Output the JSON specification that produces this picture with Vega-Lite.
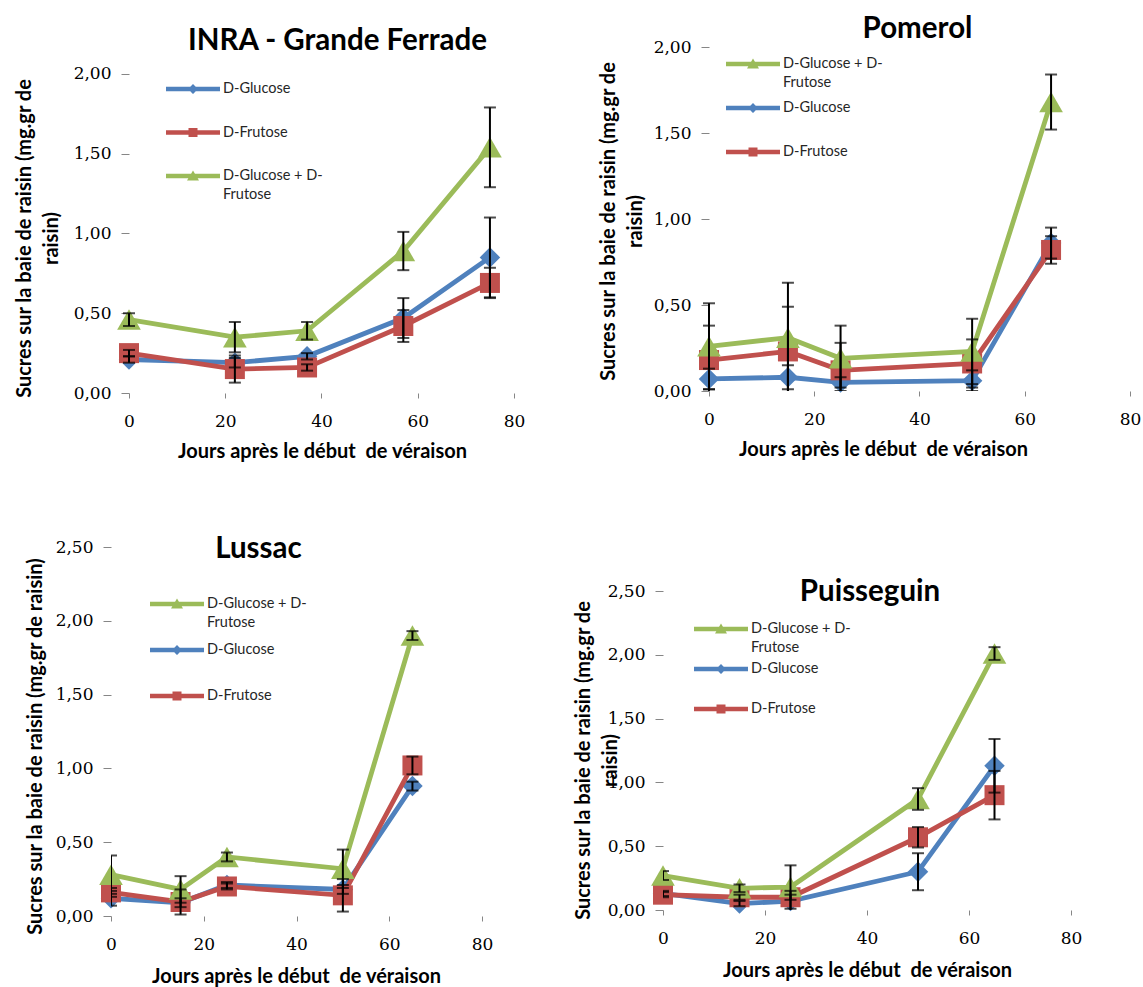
{
  "$schema": "https://vega.github.io/schema/vega-lite/v6.json",
  "padding": {"left": 13, "top": 13, "right": 5, "bottom": 5},
  "background": "white",
  "datasets": {
    "d": [
      {"p": "INRA", "s": "D-Glucose", "x": 0, "v": 0.21, "e": 0.02},
      {"p": "INRA", "s": "D-Glucose", "x": 22, "v": 0.19, "e": 0.03},
      {"p": "INRA", "s": "D-Glucose", "x": 37, "v": 0.23, "e": 0.02},
      {"p": "INRA", "s": "D-Glucose", "x": 57, "v": 0.47, "e": 0.125},
      {"p": "INRA", "s": "D-Glucose", "x": 75, "v": 0.85, "e": 0.25},
      {"p": "INRA", "s": "D-Frutose", "x": 0, "v": 0.25, "e": 0.02},
      {"p": "INRA", "s": "D-Frutose", "x": 22, "v": 0.15, "e": 0.085},
      {"p": "INRA", "s": "D-Frutose", "x": 37, "v": 0.16, "e": 0.02},
      {"p": "INRA", "s": "D-Frutose", "x": 57, "v": 0.42, "e": 0.10},
      {"p": "INRA", "s": "D-Frutose", "x": 75, "v": 0.69, "e": 0.095},
      {"p": "INRA", "s": "D-Glucose + D-Frutose", "x": 0, "v": 0.46, "e": 0.04},
      {"p": "INRA", "s": "D-Glucose + D-Frutose", "x": 22, "v": 0.35, "e": 0.095},
      {"p": "INRA", "s": "D-Glucose + D-Frutose", "x": 37, "v": 0.39, "e": 0.055},
      {"p": "INRA", "s": "D-Glucose + D-Frutose", "x": 57, "v": 0.89, "e": 0.12},
      {"p": "INRA", "s": "D-Glucose + D-Frutose", "x": 75, "v": 1.54, "e": 0.25},

      {"p": "Pomerol", "s": "D-Glucose", "x": 0, "v": 0.07, "e": 0.06},
      {"p": "Pomerol", "s": "D-Glucose", "x": 15, "v": 0.08, "e": 0.07},
      {"p": "Pomerol", "s": "D-Glucose", "x": 25, "v": 0.05, "e": 0.03},
      {"p": "Pomerol", "s": "D-Glucose", "x": 50, "v": 0.06, "e": 0.06},
      {"p": "Pomerol", "s": "D-Glucose", "x": 65, "v": 0.86, "e": 0.09},
      {"p": "Pomerol", "s": "D-Frutose", "x": 0, "v": 0.18, "e": 0.20},
      {"p": "Pomerol", "s": "D-Frutose", "x": 15, "v": 0.23, "e": 0.26},
      {"p": "Pomerol", "s": "D-Frutose", "x": 25, "v": 0.12, "e": 0.16},
      {"p": "Pomerol", "s": "D-Frutose", "x": 50, "v": 0.16, "e": 0.14},
      {"p": "Pomerol", "s": "D-Frutose", "x": 65, "v": 0.82, "e": 0.08},
      {"p": "Pomerol", "s": "D-Glucose + D-Frutose", "x": 0, "v": 0.26, "e": 0.25},
      {"p": "Pomerol", "s": "D-Glucose + D-Frutose", "x": 15, "v": 0.31, "e": 0.32},
      {"p": "Pomerol", "s": "D-Glucose + D-Frutose", "x": 25, "v": 0.19, "e": 0.19},
      {"p": "Pomerol", "s": "D-Glucose + D-Frutose", "x": 50, "v": 0.23, "e": 0.19},
      {"p": "Pomerol", "s": "D-Glucose + D-Frutose", "x": 65, "v": 1.68, "e": 0.16},

      {"p": "Lussac", "s": "D-Glucose", "x": 0, "v": 0.12, "e": 0.05},
      {"p": "Lussac", "s": "D-Glucose", "x": 15, "v": 0.09, "e": 0.03},
      {"p": "Lussac", "s": "D-Glucose", "x": 25, "v": 0.21, "e": 0.02},
      {"p": "Lussac", "s": "D-Glucose", "x": 50, "v": 0.18, "e": 0.03},
      {"p": "Lussac", "s": "D-Glucose", "x": 65, "v": 0.88, "e": 0.03},
      {"p": "Lussac", "s": "D-Frutose", "x": 0, "v": 0.16, "e": 0.03},
      {"p": "Lussac", "s": "D-Frutose", "x": 15, "v": 0.095, "e": 0.085},
      {"p": "Lussac", "s": "D-Frutose", "x": 25, "v": 0.20, "e": 0.02},
      {"p": "Lussac", "s": "D-Frutose", "x": 50, "v": 0.14, "e": 0.11},
      {"p": "Lussac", "s": "D-Frutose", "x": 65, "v": 1.02, "e": 0.06},
      {"p": "Lussac", "s": "D-Glucose + D-Frutose", "x": 0, "v": 0.28, "e": 0.13},
      {"p": "Lussac", "s": "D-Glucose + D-Frutose", "x": 15, "v": 0.18, "e": 0.09},
      {"p": "Lussac", "s": "D-Glucose + D-Frutose", "x": 25, "v": 0.40, "e": 0.03},
      {"p": "Lussac", "s": "D-Glucose + D-Frutose", "x": 50, "v": 0.32, "e": 0.13},
      {"p": "Lussac", "s": "D-Glucose + D-Frutose", "x": 65, "v": 1.90, "e": 0.03},

      {"p": "Puisseguin", "s": "D-Glucose", "x": 0, "v": 0.13, "e": 0.02},
      {"p": "Puisseguin", "s": "D-Glucose", "x": 15, "v": 0.05, "e": 0.02},
      {"p": "Puisseguin", "s": "D-Glucose", "x": 25, "v": 0.07, "e": 0.08},
      {"p": "Puisseguin", "s": "D-Glucose", "x": 50, "v": 0.30, "e": 0.145},
      {"p": "Puisseguin", "s": "D-Glucose", "x": 65, "v": 1.13, "e": 0.21},
      {"p": "Puisseguin", "s": "D-Frutose", "x": 0, "v": 0.12, "e": 0.02},
      {"p": "Puisseguin", "s": "D-Frutose", "x": 15, "v": 0.10, "e": 0.02},
      {"p": "Puisseguin", "s": "D-Frutose", "x": 25, "v": 0.10, "e": 0.02},
      {"p": "Puisseguin", "s": "D-Frutose", "x": 50, "v": 0.57, "e": 0.08},
      {"p": "Puisseguin", "s": "D-Frutose", "x": 65, "v": 0.90, "e": 0.19},
      {"p": "Puisseguin", "s": "D-Glucose + D-Frutose", "x": 0, "v": 0.27, "e": 0.035},
      {"p": "Puisseguin", "s": "D-Glucose + D-Frutose", "x": 15, "v": 0.17, "e": 0.03},
      {"p": "Puisseguin", "s": "D-Glucose + D-Frutose", "x": 25, "v": 0.18, "e": 0.17},
      {"p": "Puisseguin", "s": "D-Glucose + D-Frutose", "x": 50, "v": 0.87, "e": 0.085},
      {"p": "Puisseguin", "s": "D-Glucose + D-Frutose", "x": 65, "v": 2.01, "e": 0.05}
    ]
  },
  "columns": 2,
  "align": "each",
  "bounds": "full",
  "spacing": {"row": 72, "column": 48},
  "resolve": {
    "scale": {"color": "independent", "shape": "independent"},
    "legend": {"color": "independent", "shape": "independent"}
  },
  "concat": [
    {
      "width": 403, "height": 346,
      "title": {"text": "INRA - Grande Ferrade", "dx": 25, "offset": -9, "frame": "group"},
      "data": {"name": "d"},
      "transform": [{"filter": "datum.p == 'INRA'"}],
      "encoding": {
        "x": {"field": "x", "type": "quantitative", "scale": {"domain": [-3.74, 80], "nice": false, "zero": false},
          "axis": {"values": [0, 20, 40, 60, 80], "title": "Jours après le début\u00a0 de véraison", "titleX": 211, "titleY": 58}},
        "y": {"field": "v", "type": "quantitative", "scale": {"domain": [0, 2.169], "nice": false},
          "axis": {"values": [0, 0.5, 1, 1.5, 2], "offset": -18, "title": ["Sucres sur la baie de raisin (mg.gr de", "raisin)"], "titleX": -95, "titleY": 191}}
      },
      "layer": [
        {"data": {"values": [{"k": 1}]}, "mark": {"type": "rule", "color": "#868686", "strokeWidth": 1},
          "encoding": {"x": {"datum": 0, "type": "quantitative"}, "y": {"datum": 0, "type": "quantitative"}, "y2": {"datum": 2}}},
        {"data": {"values": [{"k": 1}]}, "mark": {"type": "rule", "color": "#868686", "strokeWidth": 1},
          "encoding": {"x": {"datum": 0, "type": "quantitative"}, "x2": {"datum": 80}, "y": {"datum": 0, "type": "quantitative"}}},
        {"transform": [{"filter": "datum.s == 'D-Glucose'"}], "mark": {"type": "line", "color": "#4F81BD", "strokeWidth": 4.8, "point": {"shape": "diamond", "filled": true, "opacity": 1, "size": 420, "color": "#4F81BD"}}},
        {"transform": [{"filter": "datum.s == 'D-Frutose'"}], "mark": {"type": "line", "color": "#C0504D", "strokeWidth": 4.8, "point": {"shape": "square", "filled": true, "opacity": 1, "size": 400, "color": "#C0504D"}}},
        {"transform": [{"filter": "datum.s == 'D-Glucose + D-Frutose'"}], "mark": {"type": "line", "color": "#9BBB59", "strokeWidth": 4.8, "point": {"shape": "triangle-up", "filled": true, "opacity": 1, "size": 560, "color": "#9BBB59"}}},
        {"mark": {"type": "errorbar", "ticks": true, "size": 12, "thickness": 2, "color": "black", "clip": true},
          "encoding": {"yError": {"field": "e"}}},
        {"transform": [{"filter": "false"}], "mark": {"type": "point", "filled": true, "opacity": 1},
          "encoding": {
            "color": {"field": "s", "type": "nominal", "scale": {"domain": ["D-Glucose", "D-Frutose", "D-Glucose + D-Frutose"], "range": ["#4F81BD", "#C0504D", "#9BBB59"]},
              "legend": {"orient": "none", "legendX": 72, "legendY": 32, "rowPadding": 4.5, "labelExpr": "datum.label === 'D-Glucose + D-Frutose' ? ['D-Glucose + D-', 'Frutose'] : datum.label"}},
            "shape": {"field": "s", "type": "nominal", "scale": {"domain": ["D-Glucose", "D-Frutose", "D-Glucose + D-Frutose"], "range": [
              "M-2.7,-0.22H2.7V0.22H-2.7ZM0,-0.5L0.5,0L0,0.5L-0.5,0ZM0,-0.9L0,2.9",
              "M-2.7,-0.22H2.7V0.22H-2.7ZM-0.45,-0.45H0.45V0.45H-0.45ZM0,-0.9L0,2.9",
              "M-2.7,-0.22H2.7V0.22H-2.7ZM0,-0.55L0.6,0.45H-0.6ZM0,-0.9L0,2.9"]},
              "legend": {"orient": "none", "legendX": 72, "legendY": 32, "rowPadding": 4.5, "labelExpr": "datum.label === 'D-Glucose + D-Frutose' ? ['D-Glucose + D-', 'Frutose'] : datum.label"}}
          }}
      ]
    },
    {
      "width": 467, "height": 344,
      "title": {"text": "Pomerol", "dx": 21, "offset": -6, "frame": "group"},
      "data": {"name": "d"},
      "transform": [{"filter": "datum.p == 'Pomerol'"}],
      "encoding": {
        "x": {"field": "x", "type": "quantitative", "scale": {"domain": [-8.741, 80], "nice": false, "zero": false},
          "axis": {"values": [0, 20, 40, 60, 80], "title": "Jours après le début\u00a0 de véraison", "titleX": 220, "titleY": 58}},
        "y": {"field": "v", "type": "quantitative", "scale": {"domain": [0, 2], "nice": false},
          "axis": {"values": [0, 0.5, 1, 1.5, 2], "offset": -46, "title": ["Sucres sur la baie de raisin (mg.gr de", "raisin)"], "titleX": -91, "titleY": 174}}
      },
      "layer": [
        {"data": {"values": [{"k": 1}]}, "mark": {"type": "rule", "color": "#868686", "strokeWidth": 1},
          "encoding": {"x": {"datum": 0, "type": "quantitative"}, "y": {"datum": 0, "type": "quantitative"}, "y2": {"datum": 2}}},
        {"data": {"values": [{"k": 1}]}, "mark": {"type": "rule", "color": "#868686", "strokeWidth": 1},
          "encoding": {"x": {"datum": 0, "type": "quantitative"}, "x2": {"datum": 80}, "y": {"datum": 0, "type": "quantitative"}}},
        {"transform": [{"filter": "datum.s == 'D-Glucose'"}], "mark": {"type": "line", "color": "#4F81BD", "strokeWidth": 4.8, "point": {"shape": "diamond", "filled": true, "opacity": 1, "size": 420, "color": "#4F81BD"}}},
        {"transform": [{"filter": "datum.s == 'D-Frutose'"}], "mark": {"type": "line", "color": "#C0504D", "strokeWidth": 4.8, "point": {"shape": "square", "filled": true, "opacity": 1, "size": 400, "color": "#C0504D"}}},
        {"transform": [{"filter": "datum.s == 'D-Glucose + D-Frutose'"}], "mark": {"type": "line", "color": "#9BBB59", "strokeWidth": 4.8, "point": {"shape": "triangle-up", "filled": true, "opacity": 1, "size": 560, "color": "#9BBB59"}}},
        {"mark": {"type": "errorbar", "ticks": true, "size": 12, "thickness": 2, "color": "black", "clip": true},
          "encoding": {"yError": {"field": "e"}}},
        {"transform": [{"filter": "false"}], "mark": {"type": "point", "filled": true, "opacity": 1},
          "encoding": {
            "color": {"field": "s", "type": "nominal", "scale": {"domain": ["D-Glucose + D-Frutose", "D-Glucose", "D-Frutose"], "range": ["#9BBB59", "#4F81BD", "#C0504D"]},
              "legend": {"orient": "none", "legendX": 80, "legendY": 7, "rowPadding": 5, "labelExpr": "datum.label === 'D-Glucose + D-Frutose' ? ['D-Glucose + D-', 'Frutose'] : datum.label"}},
            "shape": {"field": "s", "type": "nominal", "scale": {"domain": ["D-Glucose + D-Frutose", "D-Glucose", "D-Frutose"], "range": [
              "M-2.7,-0.22H2.7V0.22H-2.7ZM0,-0.55L0.6,0.45H-0.6ZM0,-0.9L0,2.9",
              "M-2.7,-0.22H2.7V0.22H-2.7ZM0,-0.5L0.5,0L0,0.5L-0.5,0ZM0,-0.9L0,2.9",
              "M-2.7,-0.22H2.7V0.22H-2.7ZM-0.45,-0.45H0.45V0.45H-0.45ZM0,-0.9L0,2.9"]},
              "legend": {"orient": "none", "legendX": 80, "legendY": 7, "rowPadding": 5, "labelExpr": "datum.label === 'D-Glucose + D-Frutose' ? ['D-Glucose + D-', 'Frutose'] : datum.label"}}
          }}
      ]
    },
    {
      "width": 371, "height": 369,
      "title": {"text": "Lussac", "dx": -38, "offset": -26, "frame": "group"},
      "data": {"name": "d"},
      "transform": [{"filter": "datum.p == 'Lussac'"}],
      "encoding": {
        "x": {"field": "x", "type": "quantitative", "scale": {"domain": [0, 80], "nice": false, "zero": false},
          "axis": {"values": [0, 20, 40, 60, 80], "title": "Jours après le début\u00a0 de véraison", "titleX": 185, "titleY": 60}},
        "y": {"field": "v", "type": "quantitative", "scale": {"domain": [0, 2.5], "nice": false},
          "axis": {"values": [0, 0.5, 1, 1.5, 2, 2.5], "title": "Sucres sur la baie de raisin (mg.gr de raisin)", "titleX": -66, "titleY": 199}}
      },
      "layer": [
        {"data": {"values": [{"k": 1}]}, "mark": {"type": "rule", "color": "#868686", "strokeWidth": 1},
          "encoding": {"x": {"datum": 0, "type": "quantitative"}, "y": {"datum": 0, "type": "quantitative"}, "y2": {"datum": 2.5}}},
        {"data": {"values": [{"k": 1}]}, "mark": {"type": "rule", "color": "#868686", "strokeWidth": 1},
          "encoding": {"x": {"datum": 0, "type": "quantitative"}, "x2": {"datum": 80}, "y": {"datum": 0, "type": "quantitative"}}},
        {"transform": [{"filter": "datum.s == 'D-Glucose'"}], "mark": {"type": "line", "color": "#4F81BD", "strokeWidth": 4.8, "point": {"shape": "diamond", "filled": true, "opacity": 1, "size": 420, "color": "#4F81BD"}}},
        {"transform": [{"filter": "datum.s == 'D-Frutose'"}], "mark": {"type": "line", "color": "#C0504D", "strokeWidth": 4.8, "point": {"shape": "square", "filled": true, "opacity": 1, "size": 400, "color": "#C0504D"}}},
        {"transform": [{"filter": "datum.s == 'D-Glucose + D-Frutose'"}], "mark": {"type": "line", "color": "#9BBB59", "strokeWidth": 4.8, "point": {"shape": "triangle-up", "filled": true, "opacity": 1, "size": 560, "color": "#9BBB59"}}},
        {"mark": {"type": "errorbar", "ticks": true, "size": 12, "thickness": 2, "color": "black", "clip": true},
          "encoding": {"yError": {"field": "e"}}},
        {"transform": [{"filter": "false"}], "mark": {"type": "point", "filled": true, "opacity": 1},
          "encoding": {
            "color": {"field": "s", "type": "nominal", "scale": {"domain": ["D-Glucose + D-Frutose", "D-Glucose", "D-Frutose"], "range": ["#9BBB59", "#4F81BD", "#C0504D"]},
              "legend": {"orient": "none", "legendX": 56, "legendY": 47, "rowPadding": 7, "labelExpr": "datum.label === 'D-Glucose + D-Frutose' ? ['D-Glucose + D-', 'Frutose'] : datum.label"}},
            "shape": {"field": "s", "type": "nominal", "scale": {"domain": ["D-Glucose + D-Frutose", "D-Glucose", "D-Frutose"], "range": [
              "M-2.7,-0.22H2.7V0.22H-2.7ZM0,-0.55L0.6,0.45H-0.6ZM0,-0.9L0,2.9",
              "M-2.7,-0.22H2.7V0.22H-2.7ZM0,-0.5L0.5,0L0,0.5L-0.5,0ZM0,-0.9L0,2.9",
              "M-2.7,-0.22H2.7V0.22H-2.7ZM-0.45,-0.45H0.45V0.45H-0.45ZM0,-0.9L0,2.9"]},
              "legend": {"orient": "none", "legendX": 56, "legendY": 47, "rowPadding": 7, "labelExpr": "datum.label === 'D-Glucose + D-Frutose' ? ['D-Glucose + D-', 'Frutose'] : datum.label"}}
          }}
      ]
    },
    {
      "width": 408, "height": 363,
      "title": {"text": "Puisseguin", "dx": 3, "offset": -60, "frame": "group"},
      "data": {"name": "d"},
      "transform": [{"filter": "datum.p == 'Puisseguin'"}],
      "encoding": {
        "x": {"field": "x", "type": "quantitative", "scale": {"domain": [0, 80], "nice": false, "zero": false},
          "axis": {"values": [0, 20, 40, 60, 80], "title": "Jours après le début\u00a0 de véraison", "titleX": 204, "titleY": 60}},
        "y": {"field": "v", "type": "quantitative", "scale": {"domain": [0, 2.845], "nice": false},
          "axis": {"values": [0, 0.5, 1, 1.5, 2, 2.5], "title": ["Sucres sur la baie de raisin (mg.gr de", "raisin)"], "titleX": -70, "titleY": 213}}
      },
      "layer": [
        {"data": {"values": [{"k": 1}]}, "mark": {"type": "rule", "color": "#868686", "strokeWidth": 1},
          "encoding": {"x": {"datum": 0, "type": "quantitative"}, "y": {"datum": 0, "type": "quantitative"}, "y2": {"datum": 2.5}}},
        {"data": {"values": [{"k": 1}]}, "mark": {"type": "rule", "color": "#868686", "strokeWidth": 1},
          "encoding": {"x": {"datum": 0, "type": "quantitative"}, "x2": {"datum": 80}, "y": {"datum": 0, "type": "quantitative"}}},
        {"transform": [{"filter": "datum.s == 'D-Glucose'"}], "mark": {"type": "line", "color": "#4F81BD", "strokeWidth": 4.8, "point": {"shape": "diamond", "filled": true, "opacity": 1, "size": 420, "color": "#4F81BD"}}},
        {"transform": [{"filter": "datum.s == 'D-Frutose'"}], "mark": {"type": "line", "color": "#C0504D", "strokeWidth": 4.8, "point": {"shape": "square", "filled": true, "opacity": 1, "size": 400, "color": "#C0504D"}}},
        {"transform": [{"filter": "datum.s == 'D-Glucose + D-Frutose'"}], "mark": {"type": "line", "color": "#9BBB59", "strokeWidth": 4.8, "point": {"shape": "triangle-up", "filled": true, "opacity": 1, "size": 560, "color": "#9BBB59"}}},
        {"mark": {"type": "errorbar", "ticks": true, "size": 12, "thickness": 2, "color": "black", "clip": true},
          "encoding": {"yError": {"field": "e"}}},
        {"transform": [{"filter": "false"}], "mark": {"type": "point", "filled": true, "opacity": 1},
          "encoding": {
            "color": {"field": "s", "type": "nominal", "scale": {"domain": ["D-Glucose + D-Frutose", "D-Glucose", "D-Frutose"], "range": ["#9BBB59", "#4F81BD", "#C0504D"]},
              "legend": {"orient": "none", "legendX": 48, "legendY": 72, "rowPadding": 1, "labelExpr": "datum.label === 'D-Glucose + D-Frutose' ? ['D-Glucose + D-', 'Frutose'] : datum.label"}},
            "shape": {"field": "s", "type": "nominal", "scale": {"domain": ["D-Glucose + D-Frutose", "D-Glucose", "D-Frutose"], "range": [
              "M-2.7,-0.22H2.7V0.22H-2.7ZM0,-0.55L0.6,0.45H-0.6ZM0,-0.9L0,2.9",
              "M-2.7,-0.22H2.7V0.22H-2.7ZM0,-0.5L0.5,0L0,0.5L-0.5,0ZM0,-0.9L0,2.9",
              "M-2.7,-0.22H2.7V0.22H-2.7ZM-0.45,-0.45H0.45V0.45H-0.45ZM0,-0.9L0,2.9"]},
              "legend": {"orient": "none", "legendX": 48, "legendY": 72, "rowPadding": 1, "labelExpr": "datum.label === 'D-Glucose + D-Frutose' ? ['D-Glucose + D-', 'Frutose'] : datum.label"}}
          }}
      ]
    }
  ],
  "config": {
    "view": {"stroke": null},
    "axis": {"domain": false, "grid": false, "ticks": true, "tickColor": "#868686", "tickWidth": 1,
      "labelFont": "DejaVu Serif", "labelFontSize": 17, "labelColor": "#000000", "labelFlush": false, "labelOverlap": false,
      "titleFont": "Lato", "titleFontSize": 20, "titleFontWeight": "bold", "titleColor": "#000000", "titleLineHeight": 27},
    "axisX": {"tickSize": 5, "labelPadding": 15, "titleBaseline": "middle", "titleAlign": "center"},
    "axisY": {"tickSize": 8, "labelPadding": 10, "labelExpr": "replace(format(datum.value, '.2f'), '.', ',')"},
    "title": {"font": "Lato", "fontSize": 29.5, "fontWeight": "bold", "color": "#000000", "anchor": "middle", "frame": "group"},
    "legend": {"title": null, "padding": 0, "symbolSize": 400, "symbolStrokeWidth": 0, "labelOffset": 20,
      "labelFont": "Lato", "labelFontSize": 14.5, "labelColor": "#262626", "labelLimit": 300},
    "style": {"guide-label": {"lineHeight": 19}}
  }
}
